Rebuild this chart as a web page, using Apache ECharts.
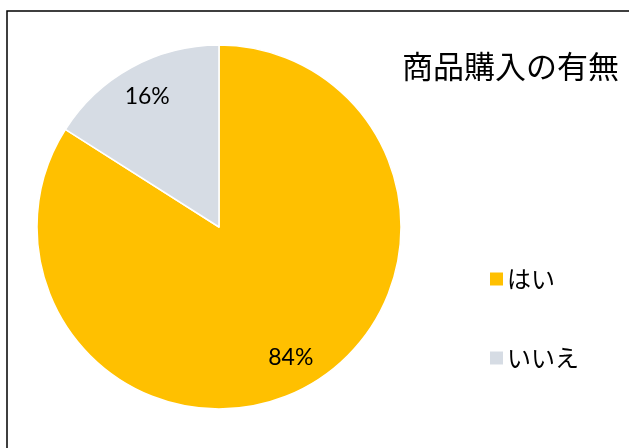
<!DOCTYPE html>
<html><head><meta charset="utf-8">
<script src="https://cdn.jsdelivr.net/npm/echarts@6/dist/echarts.min.js"></script>
<style>html,body{margin:0;padding:0;background:#fff}#c{width:629px;height:448px}</style>
</head><body><div id="c"></div>
<script>
const titleText = '商品購入の有無';
const categories = ['はい', 'いいえ'];
const values = [84, 16];
const colors = ['#FFC000', '#D6DCE4'];

const chart = echarts.init(document.getElementById('c'), null, {renderer: 'canvas'});
const data = categories.map((n, i) => ({name: n, value: values[i], itemStyle: {color: colors[i]}}));
chart.setOption({
  animation: false,
  backgroundColor: '#fff',
  title: {
    text: titleText, left: 402, top: 51, padding: 0,
    textStyle: {fontFamily: 'Noto Sans CJK JP', fontSize: 31, fontWeight: 'normal', color: '#000'}
  },
  legend: {
    orient: 'vertical', left: 488, top: 267, padding: 0, itemWidth: 15, itemHeight: 15, itemGap: 55,
    icon: 'rect', selectedMode: false,
    textStyle: {fontFamily: 'Noto Sans CJK JP', fontSize: 24, lineHeight: 24, color: '#000', padding: [0,0,0,-2]},
    data: categories
  },
  graphic: [{
    type: 'rect', shape: {x: 7, y: 11, width: 700, height: 600},
    style: {fill: 'none', stroke: '#000', lineWidth: 1.5}, silent: true, z: 100
  }],
  series: [{
    type: 'pie', center: [219, 227], radius: [0, 182], startAngle: 90, clockwise: true,
    label: {show: false}, labelLine: {show: false},
    itemStyle: {borderColor: '#fff', borderWidth: 1.5},
    emphasis: {disabled: true},
    data: data
  }, {
    type: 'pie', center: [219, 227], radius: [110, 182], startAngle: 90, clockwise: true,
    silent: true, emphasis: {disabled: true},
    itemStyle: {color: 'rgba(0,0,0,0)'},
    label: {show: true, position: 'inside', formatter: p => p.value + '%',
      fontFamily: 'Lato', fontSize: 23, color: '#000'},
    labelLine: {show: false},
    data: categories.map((n, i) => ({name: n, value: values[i], itemStyle: {color: 'rgba(0,0,0,0)'}}))
  }]
});
</script></body></html>
